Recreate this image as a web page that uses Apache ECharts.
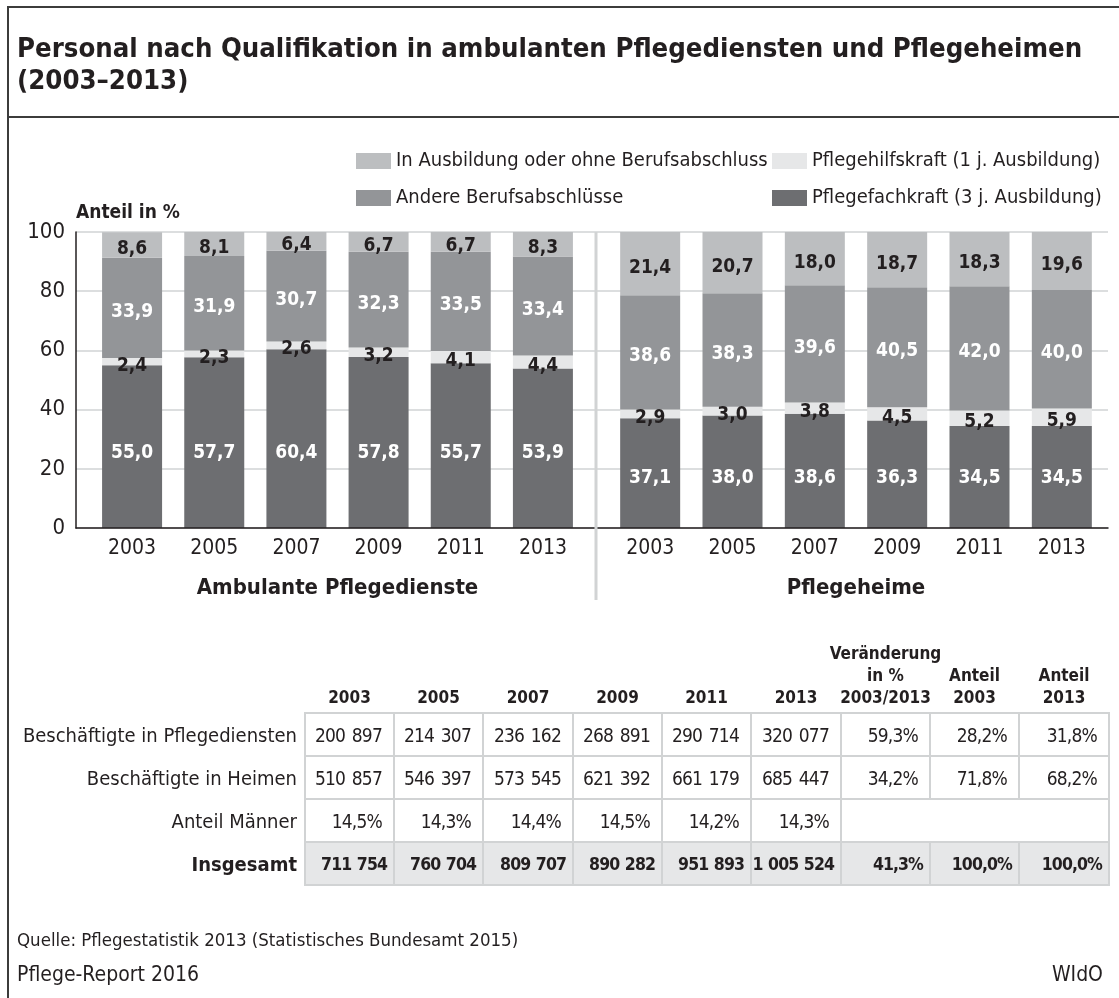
<!DOCTYPE html>
<html>
<head>
<meta charset="utf-8">
<script src="https://cdn.jsdelivr.net/npm/echarts@6/dist/echarts.min.js"></script>
<style>
  html, body { margin: 0; padding: 0; background: #fff; }
  #page {
    position: relative; width: 1119px; height: 998px; overflow: hidden;
    font-family: "Liberation Sans Narrow", "DejaVu Sans Condensed", sans-serif;
    color: #231f20;
  }
  #chart { position: absolute; left: 0; top: 0; width: 1119px; height: 998px; }
  .rule { position: absolute; background: #3c3c3b; }
  #title {
    position: absolute; left: 17px; top: 32px;
    font-size: 27.3px; line-height: 32px; font-weight: bold;
  }
  #tbl {
    position: absolute; left: 0; top: 634px; width: 1109px;
    border-collapse: collapse; table-layout: fixed;
    font-size: 19px;
  }
  #tbl td { padding: 0; height: 41px; white-space: nowrap; }
  #tbl th {
    font-size: 17px; font-weight: bold; line-height: 22px;
    vertical-align: bottom; text-align: center; padding: 0 0 4px 0; height: 74px;
  }
  #tbl th div { margin: 0 -25px; }
  #tbl td.lbl { text-align: right; padding-right: 7px; border: none; font-size: 20px; }
  #tbl td.val {
    text-align: right; padding-right: 11px; border: 2px solid #d1d3d4;
    letter-spacing: -0.8px; word-spacing: 2px;
  }
  #tbl tr.sum td { font-weight: bold; }
  #tbl tr.sum td.val {
    background: #e6e7e8; font-size: 17.5px; letter-spacing: -0.9px; word-spacing: 1px; padding-right: 6px;
  }
  .foot { position: absolute; left: 17px; }
</style>
</head>
<body>
<div id="page">
  <div id="chart"></div>
  <div class="rule" style="left:7px;top:6px;width:2px;height:992px"></div>
  <div class="rule" style="left:7px;top:6px;width:1112px;height:2px"></div>
  <div class="rule" style="left:7px;top:116px;width:1112px;height:2px"></div>
  <div id="title">Personal nach Qualifikation in ambulanten Pflegediensten und Pflegeheimen<br>(2003–2013)</div>
  <table id="tbl"></table>
  <div class="foot" style="top:929px;font-size:18.5px">Quelle: Pflegestatistik 2013 (Statistisches Bundesamt 2015)</div>
  <div class="foot" style="top:962px;font-size:21px">Pflege-Report 2016</div>
  <div class="foot" style="top:962px;font-size:21px;left:auto;right:16px">WIdO</div>
</div>
<script>
// ─── chart data ───────────────────────────────────────────────
const years = ["2003", "2005", "2007", "2009", "2011", "2013"];

const ambFach   = [55.0, 57.7, 60.4, 57.8, 55.7, 53.9];
const ambHilf   = [2.4, 2.3, 2.6, 3.2, 4.1, 4.4];
const ambAndere = [33.9, 31.9, 30.7, 32.3, 33.5, 33.4];
const ambAusb   = [8.6, 8.1, 6.4, 6.7, 6.7, 8.3];

const heimFach   = [37.1, 38.0, 38.6, 36.3, 34.5, 34.5];
const heimHilf   = [2.9, 3.0, 3.8, 4.5, 5.2, 5.9];
const heimAndere = [38.6, 38.3, 39.6, 40.5, 42.0, 40.0];
const heimAusb   = [21.4, 20.7, 18.0, 18.7, 18.3, 19.6];

const yTicks = [0, 20, 40, 60, 80, 100];

// ─── table data ───────────────────────────────────────────────
const tblHead = ["2003", "2005", "2007", "2009", "2011", "2013",
  "Veränderung<br>in %<br>2003/2013", "Anteil<br>2003", "Anteil<br>2013"];
const rowLabels = ["Beschäftigte in Pflegediensten", "Beschäftigte in Heimen", "Anteil Männer", "Insgesamt"];
const dienste   = [200897, 214307, 236162, 268891, 290714, 320077];
const heime     = [510857, 546397, 573545, 621392, 661179, 685447];
const maenner   = [14.5, 14.3, 14.4, 14.5, 14.2, 14.3];
const insgesamt = [711754, 760704, 809707, 890282, 951893, 1005524];
const dienstePct = [59.3, 28.2, 31.8];
const heimePct   = [34.2, 71.8, 68.2];
const gesamtPct  = [41.3, 100.0, 100.0];

const FONT = '"Liberation Sans Narrow", "DejaVu Sans Condensed", sans-serif';
const INK = "#231f20";
const C_FACH = "#6d6e71", C_HILF = "#e6e7e8", C_ANDERE = "#939598", C_AUSB = "#bcbec0";
const N_AUSB = "In Ausbildung oder ohne Berufsabschluss";
const N_ANDERE = "Andere Berufsabschlüsse";
const N_HILF = "Pflegehilfskraft (1 j. Ausbildung)";
const N_FACH = "Pflegefachkraft (3 j. Ausbildung)";

const dec = (v) => v.toFixed(1).replace(".", ",");
const num = (v) => String(v).replace(/\B(?=(\d{3})+(?!\d))/g, " ");

// ─── build table ──────────────────────────────────────────────
(function buildTable() {
  const widths = [305, 89, 89, 90, 89, 89, 90, 89, 89, 90];
  let html = "<colgroup>" + widths.map(w => `<col style="width:${w}px">`).join("") + "</colgroup>";
  html += "<tr><th></th>" + tblHead.map(h => `<th><div>${h}</div></th>`).join("") + "</tr>";
  const row = (label, cells, cls) =>
    `<tr class="${cls || ""}"><td class="lbl">${label}</td>` + cells.join("") + "</tr>";
  const td = (t) => `<td class="val">${t}</td>`;
  html += row(rowLabels[0], dienste.map(v => td(num(v))).concat(dienstePct.map(v => td(dec(v) + "%"))));
  html += row(rowLabels[1], heime.map(v => td(num(v))).concat(heimePct.map(v => td(dec(v) + "%"))));
  html += row(rowLabels[2], maenner.map(v => td(dec(v) + "%")).concat(['<td class="val" colspan="3"></td>']));
  html += row(rowLabels[3], insgesamt.map(v => td(num(v))).concat(gesamtPct.map(v => td(dec(v) + "%"))), "sum");
  document.getElementById("tbl").innerHTML = html;
})();

// ─── chart ────────────────────────────────────────────────────
function groupSeries(gi, fach, hilf, andere, ausb, fachDist) {
  const base = {
    type: "bar", stack: "g" + gi, xAxisIndex: gi, yAxisIndex: gi,
    barWidth: 60, animation: false,
  };
  const lbl = (color, extra) => Object.assign({
    show: true, color: color, fontSize: 19, fontWeight: "bold", fontFamily: FONT,
    formatter: (p) => dec(p.value),
  }, extra);
  return [
    Object.assign({}, base, { name: N_FACH, data: fach, itemStyle: { color: C_FACH },
      label: lbl("#fff", { position: "insideBottom", distance: fachDist }) }),
    Object.assign({}, base, { name: N_HILF, data: hilf, itemStyle: { color: C_HILF },
      label: lbl(INK, { position: "inside", offset: [0, 4] }) }),
    Object.assign({}, base, { name: N_ANDERE, data: andere, itemStyle: { color: C_ANDERE },
      label: lbl("#fff", { position: "inside", offset: [0, 4] }) }),
    Object.assign({}, base, { name: N_AUSB, data: ausb, itemStyle: { color: C_AUSB },
      label: lbl(INK, { position: "inside", offset: [0, 4] }) }),
  ];
}

const catAxis = (gi, name) => ({
  type: "category", gridIndex: gi, data: years,
  axisLine: { show: false }, axisTick: { show: false },
  axisLabel: { fontSize: 21, color: INK, margin: 10, fontFamily: FONT },
  name: name, nameLocation: "middle", nameGap: 60,
  nameTextStyle: { fontSize: 22, fontWeight: "bold", color: INK, verticalAlign: "middle", fontFamily: FONT },
});
const hiddenY = (gi) => ({ type: "value", gridIndex: gi, min: 0, max: 100, show: false });

const legendBase = {
  orient: "vertical", top: 151, padding: 0, itemWidth: 35, itemHeight: 16, itemGap: 17,
  icon: "rect", selectedMode: false,
  textStyle: { fontSize: 20, color: INK, fontFamily: FONT },
};

const chart = echarts.init(document.getElementById("chart"), null, { renderer: "canvas" });
chart.setOption({
  animation: false,
  textStyle: { fontFamily: FONT },
  legend: [
    Object.assign({}, legendBase, { left: 356, data: [N_AUSB, N_ANDERE] }),
    Object.assign({}, legendBase, { left: 772, data: [N_HILF, N_FACH] }),
  ],
  grid: [
    { left: 76, top: 232, width: 1032, height: 296 },
    { left: 91, top: 232, width: 493, height: 296 },
    { left: 609, top: 232, width: 494, height: 296 },
  ],
  xAxis: [
    { type: "value", gridIndex: 0, min: 0, max: 1, z: 5,
      axisLine: { show: true, lineStyle: { color: INK, width: 1.5 } },
      axisTick: { show: false }, axisLabel: { show: false }, splitLine: { show: false } },
    catAxis(1, "Ambulante Pflegedienste"),
    catAxis(2, "Pflegeheime"),
  ],
  yAxis: [
    { type: "value", gridIndex: 0, min: yTicks[0], max: yTicks[yTicks.length - 1], interval: 20,
      axisLine: { show: true, lineStyle: { color: INK, width: 1.5 } },
      axisTick: { show: false },
      axisLabel: { fontSize: 22, color: INK, margin: 11, fontFamily: FONT },
      splitLine: { show: true, lineStyle: { color: "#d1d3d4", width: 1.5 } },
      name: "Anteil in %", nameLocation: "end", nameGap: 19,
      nameTextStyle: { fontSize: 19, fontWeight: "bold", color: INK, align: "left", verticalAlign: "middle", fontFamily: FONT } },
    hiddenY(1),
    hiddenY(2),
  ],
  graphic: [
    { type: "line", z: 100, shape: { x1: 596, y1: 232, x2: 596, y2: 600 },
      style: { stroke: "#d1d3d4", lineWidth: 3 } },
  ],
  series: [].concat(
    groupSeries(1, ambFach, ambHilf, ambAndere, ambAusb, 65),
    groupSeries(2, heimFach, heimHilf, heimAndere, heimAusb, 40)
  ),
});
</script>
</body>
</html>
